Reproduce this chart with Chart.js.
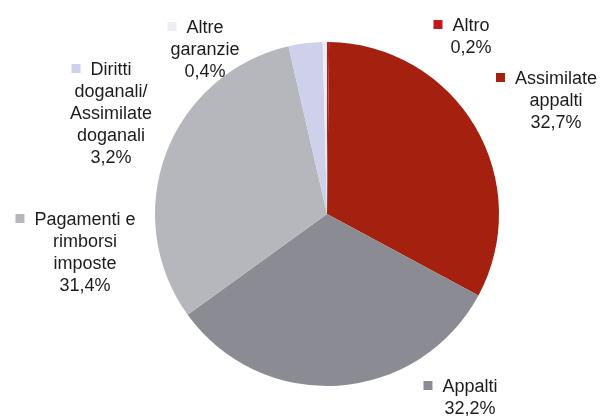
<!DOCTYPE html>
<html lang="it">
<head>
    <meta charset="UTF-8">
    <title>Ripartizione garanzie</title>
    <script src="https://cdn.jsdelivr.net/npm/chart.js"></script>
    <style>
        html, body { margin: 0; padding: 0; background: #fff; }
        #wrap { width: 602px; height: 416px; }
    </style>
</head>
<body>
    <div id="wrap"><canvas id="pieChart" width="602" height="416"></canvas></div>

    <script>
        // categorie (in ordine orario partendo dalle ore 12)
        const categorie = [
            ['Altro'],
            ['Assimilate', 'appalti'],
            ['Appalti'],
            ['Pagamenti e', 'rimborsi', 'imposte'],
            ['Diritti', 'doganali/', 'Assimilate', 'doganali'],
            ['Altre', 'garanzie']
        ];
        const percentuali = [0.2, 32.7, 32.2, 31.4, 3.2, 0.4];
        const colori = ['#c3181e', '#a4200f', '#8b8c93', '#b6b6bd', '#cfd0ea', '#ededf4'];

        // posizione delle etichette: centro del testo e prima linea di base
        const posEtichette = [
            { x: 471, y: 31 },
            { x: 556, y: 84 },
            { x: 470, y: 392 },
            { x: 85, y: 225 },
            { x: 111, y: 75 },
            { x: 205, y: 33 }
        ];

        const formatta = v => v.toFixed(1).replace('.', ',') + '%';

        const etichettePlugin = {
            id: 'etichette',
            afterDraw(chart) {
                const ctx = chart.ctx;
                const lineH = 22;
                ctx.save();
                ctx.font = '18px "Liberation Sans", Arial, sans-serif';
                ctx.textAlign = 'center';
                ctx.textBaseline = 'alphabetic';
                categorie.forEach((righe, i) => {
                    const p = posEtichette[i];
                    const testo = righe.concat([formatta(percentuali[i])]);
                    testo.forEach((r, k) => {
                        ctx.fillStyle = '#1c1c1c';
                        ctx.fillText(r, p.x, p.y + k * lineH);
                    });
                    // quadratino colorato a sinistra della prima riga
                    const w = ctx.measureText(testo[0]).width;
                    ctx.fillStyle = colori[i];
                    ctx.fillRect(p.x - w / 2 - 19, p.y - 11, 9, 9);
                });
                ctx.restore();
            }
        };

        const ctx = document.getElementById('pieChart').getContext('2d');
        new Chart(ctx, {
            type: 'pie',
            data: {
                labels: categorie,
                datasets: [{
                    data: percentuali,
                    backgroundColor: colori,
                    borderWidth: 0
                }]
            },
            options: {
                responsive: false,
                animation: false,
                layout: {
                    padding: { left: 155, right: 103, top: 42, bottom: 30 }
                },
                plugins: {
                    legend: { display: false },
                    tooltip: { enabled: false }
                }
            },
            plugins: [etichettePlugin]
        });
    </script>
</body>
</html>
